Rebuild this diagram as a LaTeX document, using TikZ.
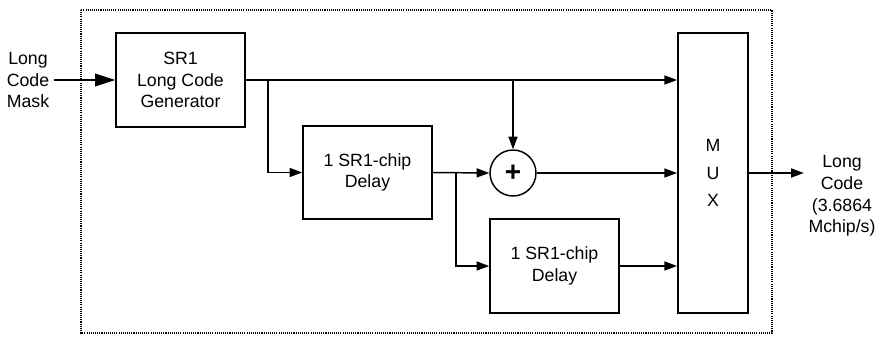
\documentclass[tikz,border=0pt]{standalone}
\usepackage{fontspec}
\setmainfont{Liberation Sans}
\usetikzlibrary{arrows.meta,positioning}

\begin{document}
\begin{tikzpicture}[x=0.75pt,y=-0.75pt,
    txt/.style={font=\fontsize{13.3pt}{16.2pt}\selectfont,align=center},
    blk/.style={txt,draw,line width=1.5pt,minimum width=96.5pt,minimum height=70pt,inner sep=0pt},
    arr/.style={line width=1.1pt,-{Triangle[length=9.5pt,width=6.8pt]}},
    bigarr/.style={line width=1.1pt,-{Triangle[length=15pt,width=9.5pt]}}]
    \useasboundingbox (0,0) rectangle (878,336);
    % Dotted enclosure
    \draw[line width=0.8pt,dash pattern=on 0.8pt off 0.8pt] (81,10) rectangle (772,333);
    % Blocks
    \node[blk] (sr1) at (180.5,80) {SR1\\Long Code\\Generator};
    \node[blk] (dly1) at (367.5,172.5) {1 SR1-chip\\Delay};
    \node[blk] (dly2) at (554.5,266) {1 SR1-chip\\Delay};
    \node[txt,draw,circle,line width=1.1pt,minimum size=34.5pt,inner sep=0pt,
          font=\fontsize{21pt}{21pt}\selectfont\bfseries] (add) at (513,173) {+};
    \node[blk,minimum width=52.5pt,minimum height=210pt,
          font=\fontsize{13.3pt}{20.5pt}\selectfont] (mux) at (713,173) {M\\U\\X};
    % Labels
    \node[txt] (inlbl) at (28,80) {Long\\Code\\Mask};
    \node[txt] (outlbl) at (842,196) {Long\\Code\\(3.6864\\Mchip/s)};
    % Branch points
    \coordinate (br1) at (268,80);
    \coordinate (br2) at (513,80);
    \coordinate (br3) at (456,173);
    % Connectors
    \draw[bigarr] (inlbl.east) -- (sr1.west);
    \draw[arr] (sr1.east) -- (sr1.east -| mux.west);
    \draw[arr] (br1) |- (dly1.west);
    \draw[arr] (br2) -- (add.north);
    \draw[arr] (dly1.east) -- (add.west);
    \draw[arr] (br3) |- (dly2.west);
    \draw[arr] (add.east) -- (add.east -| mux.west);
    \draw[arr] (dly2.east) -- (dly2.east -| mux.west);
    \draw[arr] (mux.east) -- (mux.east -| outlbl.west);
\end{tikzpicture}
\end{document}
